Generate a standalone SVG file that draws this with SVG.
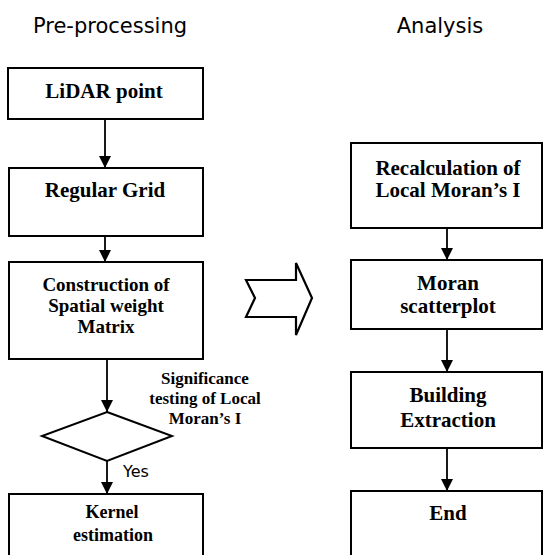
<svg xmlns="http://www.w3.org/2000/svg" width="543" height="555" viewBox="0 0 543 555">
<style>
.box{fill:#fff;stroke:#000;stroke-width:2}
.t{font-family:"Liberation Serif","Times New Roman",serif;font-weight:bold;text-anchor:middle;fill:#000}
.s{font-family:"DejaVu Sans",sans-serif;fill:#000}
.ln{stroke:#000;stroke-width:1.8;fill:none}
</style>
<defs>
<marker id="ah" markerWidth="12" markerHeight="12" refX="12" refY="6" orient="auto" markerUnits="userSpaceOnUse">
<path d="M0,0 L12,6 L0,12 Z" fill="#000"/>
</marker>
</defs>
<rect width="543" height="555" fill="#fff"/>
<text class="s" x="110" y="33" font-size="21" text-anchor="middle">Pre-processing</text>
<text class="s" x="440" y="33" font-size="21" text-anchor="middle">Analysis</text>

<g id="connectors">
<line class="ln" x1="105" y1="119" x2="105" y2="168" marker-end="url(#ah)"/>
<line class="ln" x1="105" y1="236" x2="105" y2="262" marker-end="url(#ah)"/>
<line class="ln" x1="107" y1="359" x2="107" y2="412" marker-end="url(#ah)"/>
<line class="ln" x1="107" y1="461" x2="107" y2="494" marker-end="url(#ah)"/>
<line class="ln" x1="447" y1="228" x2="447" y2="260" marker-end="url(#ah)"/>
<line class="ln" x1="447" y1="329" x2="447" y2="372" marker-end="url(#ah)"/>
<line class="ln" x1="447" y1="448" x2="447" y2="491" marker-end="url(#ah)"/>
<text class="s" x="123" y="477" font-size="16">Yes</text>
</g>

<g id="lidar">
<rect class="box" x="8" y="68" width="195" height="51"/>
<text class="t" x="104" y="98" font-size="21">LiDAR point</text>
</g>
<g id="grid">
<rect class="box" x="9" y="168" width="194" height="68"/>
<text class="t" x="105" y="197" font-size="21">Regular Grid</text>
</g>
<g id="matrix">
<rect class="box" x="9" y="262" width="194" height="97"/>
<text class="t" x="106" y="291" font-size="19">Construction of</text>
<text class="t" x="106" y="312" font-size="19">Spatial weight</text>
<text class="t" x="106" y="333" font-size="19">Matrix</text>
</g>
<g id="decision">
<polygon class="box" points="107,412 172,436 107,461 42,436"/>
<text class="t" x="205" y="384" font-size="17">Significance</text>
<text class="t" x="205" y="404" font-size="17">testing of Local</text>
<text class="t" x="205" y="424" font-size="17">Moran’s I</text>
</g>
<g id="kernel">
<rect class="box" x="9" y="494" width="194" height="80"/>
<text class="t" x="112" y="518" font-size="18">Kernel</text>
<text class="t" x="113" y="541" font-size="18">estimation</text>
</g>

<g id="bigarrow">
<polygon points="246,280 296,280 296,263 312,298 296,335 296,317 246,317 255,298" fill="#fff" stroke="#000" stroke-width="2.2" stroke-linejoin="miter"/>
</g>

<g id="recalc">
<rect class="box" x="351" y="143" width="191" height="85"/>
<text class="t" x="448" y="175" font-size="21">Recalculation of</text>
<text class="t" x="448" y="197" font-size="21">Local Moran’s I</text>
</g>
<g id="scatter">
<rect class="box" x="351" y="260" width="191" height="69"/>
<text class="t" x="448" y="290" font-size="21">Moran</text>
<text class="t" x="448" y="313" font-size="21">scatterplot</text>
</g>
<g id="building">
<rect class="box" x="351" y="372" width="191" height="76"/>
<text class="t" x="448" y="402" font-size="21">Building</text>
<text class="t" x="448" y="427" font-size="21">Extraction</text>
</g>
<g id="end">
<rect class="box" x="351" y="491" width="191" height="80"/>
<text class="t" x="448" y="520" font-size="21">End</text>
</g>
</svg>
